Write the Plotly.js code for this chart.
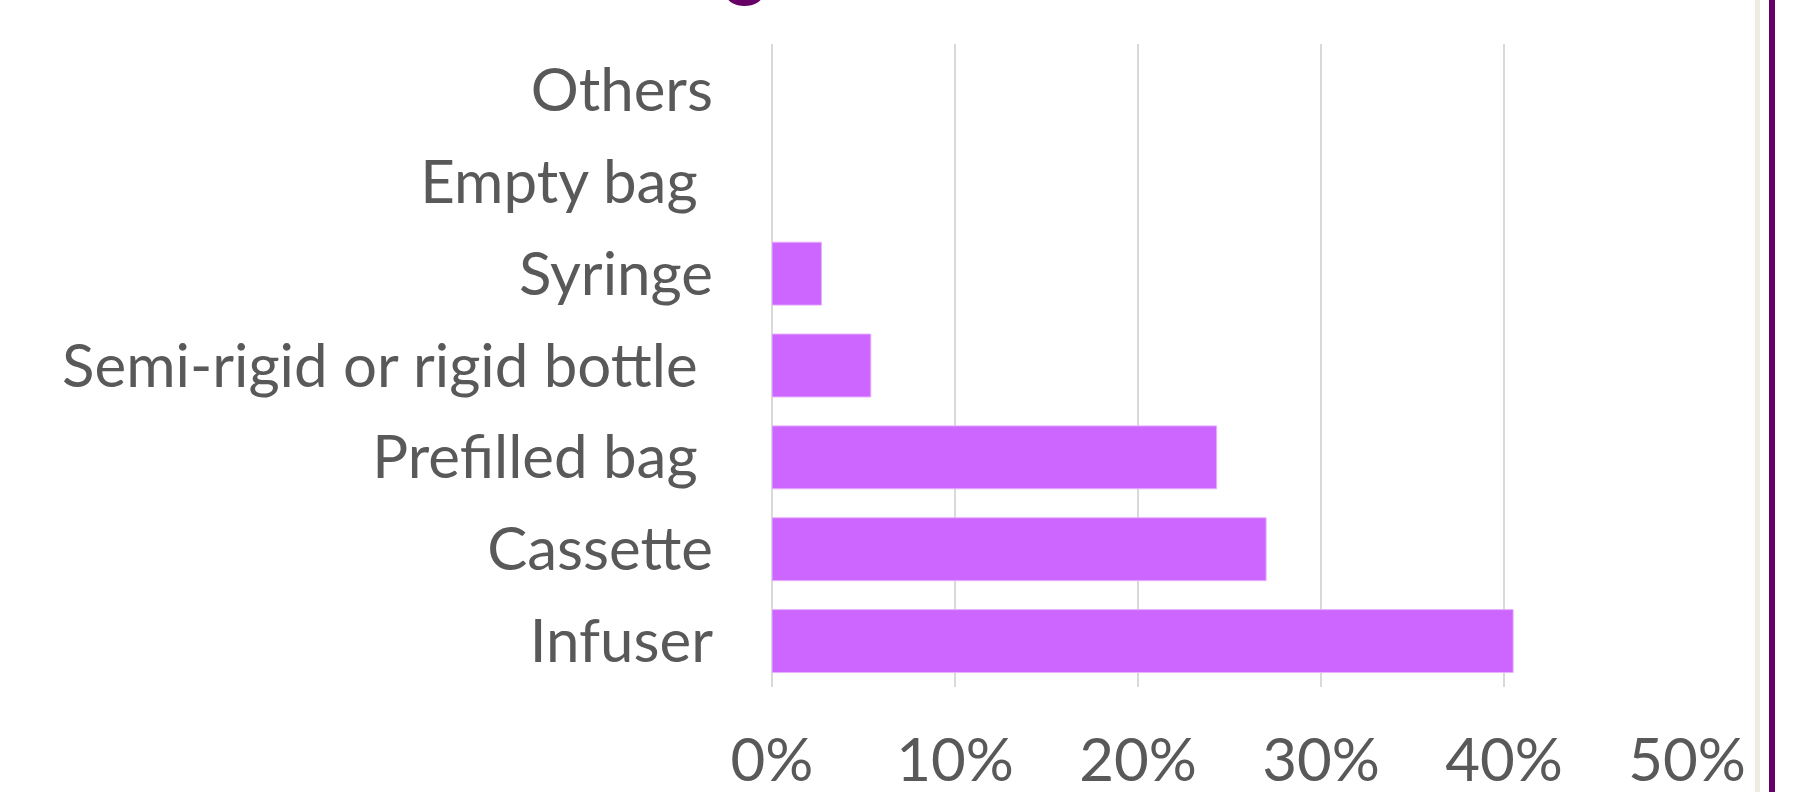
<!DOCTYPE html>
<html>
<head>
<meta charset="utf-8">
<script src="https://cdn.plot.ly/plotly-3.0.1.min.js"></script>
<style>
  html, body { margin: 0; padding: 0; background: #ffffff; }
  #chart { width: 1800px; height: 792px; }
</style>
</head>
<body>
<div id="chart"></div>
<script>
// Categories, top to bottom as shown
const categories = [
  "Others",
  "Empty bag\u00a0",
  "Syringe",
  "Semi-rigid or rigid bottle\u00a0",
  "Prefilled bag\u00a0",
  "Cassette",
  "Infuser"
];
// Share of each container type (fraction)
const shares = [0, 0, 0.027, 0.054, 0.243, 0.270, 0.405];
// X tick values and labels
const xTickValues = [0, 0.1, 0.2, 0.3, 0.4, 0.5];
const xTickLabels = ["0%", "10%", "20%", "30%", "40%", "50%"];

const FONT = "Lato, 'Open Sans', sans-serif";
const TEXT_COLOR = "#595959";
const FS = 60;

const trace = {
  type: "bar",
  orientation: "h",
  y: categories,
  x: shares,
  marker: {
    color: "#CC66FF",
    line: { color: "#E8B0FF", width: shares.map(v => (v > 0 ? 1 : 0)) }
  },
  hoverinfo: "x+y"
};

const layout = {
  width: 1800,
  height: 792,
  margin: { l: 772, r: 113, t: 44, b: 105, pad: 0 },
  paper_bgcolor: "#ffffff",
  plot_bgcolor: "#ffffff",
  showlegend: false,
  bargap: 0.315,
  font: { family: FONT, color: TEXT_COLOR, size: FS },
  xaxis: {
    range: [0, 0.5],
    tickvals: xTickValues,
    ticktext: xTickLabels,
    showgrid: true,
    gridcolor: "#D9D9D9",
    gridwidth: 2,
    zeroline: true,
    zerolinecolor: "#D9D9D9",
    zerolinewidth: 2,
    showline: false,
    ticks: "",
    ticklabelstandoff: 33,
    tickfont: { family: FONT, color: TEXT_COLOR, size: FS },
    fixedrange: true
  },
  yaxis: {
    type: "category",
    categoryorder: "array",
    categoryarray: categories,
    autorange: "reversed",
    showgrid: false,
    zeroline: false,
    showline: false,
    ticks: "",
    ticklabelstandoff: 58,
    tickfont: { family: FONT, color: TEXT_COLOR, size: FS },
    fixedrange: true
  },
  shapes: [
    { type: "line", xref: "paper", yref: "paper",
      x0: (1757.5 - 772) / 915, x1: (1757.5 - 772) / 915, y0: -1, y1: 2,
      line: { color: "#EEECE1", width: 5 } },
    { type: "line", xref: "paper", yref: "paper",
      x0: (1772 - 772) / 915, x1: (1772 - 772) / 915, y0: -1, y1: 2,
      line: { color: "#660066", width: 6 } },
    { type: "circle", xref: "paper", yref: "paper",
      x0: (727 - 772) / 915, x1: (762 - 772) / 915,
      y0: (687 - 6) / 643, y1: (687 + 14) / 643,
      fillcolor: "#660066", line: { width: 0 } }
  ]
};

Plotly.newPlot("chart", [trace], layout, { displayModeBar: false, staticPlot: true });
</script>
</body>
</html>
